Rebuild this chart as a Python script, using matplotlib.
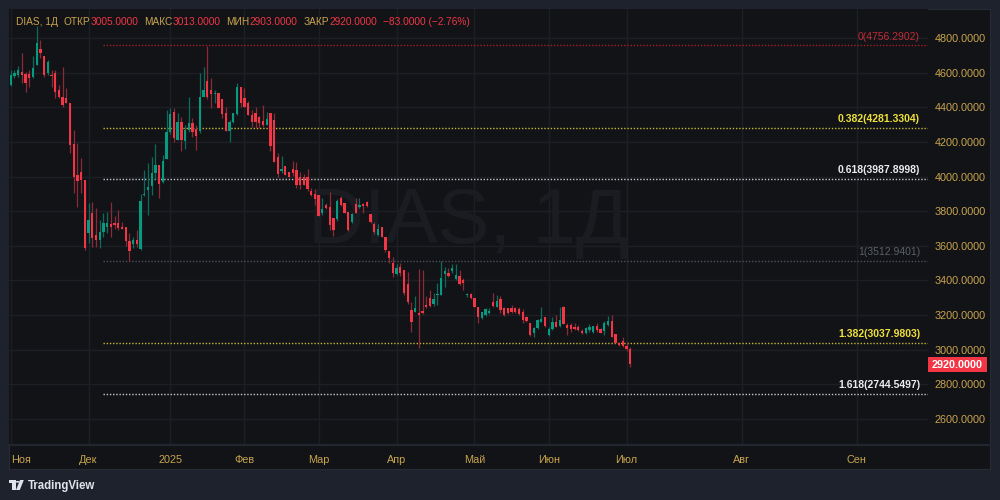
import matplotlib
matplotlib.use("Agg")
import matplotlib.pyplot as plt
from matplotlib.patches import Rectangle, Polygon, Circle
import numpy as np

# ---------------- data (daily OHLC) ----------------
opens = [4529, 4581, 4586, 4606, 4590, 4592, 4573, 4644, 4735, 4696,
         4596, 4586, 4596, 4500, 4461, 4455, 4423, 4188, 4009, 4028,
         3980, 3672, 3788, 3662, 3634, 3682, 3711, 3726,
         3730, 3730, 3711, 3707, 3628, 3610, 3633, 3580, 3896, 3922,
         3945, 4018, 4067, 3970, 4101, 4259, 4375, 4211, 4317, 4207,
         4269, 4307, 4273, 4265, 4457, 4554, 4500, 4478, 4484,
         4446, 4365, 4265, 4317, 4361, 4519, 4452, 4423, 4355, 4369,
         4346, 4323, 4298, 4365, 4327, 4111, 4034, 4061, 4028, 4042,
         4038, 3995, 3995, 3995, 3918, 3899, 3893, 3791,
         3836, 3826, 3759, 3753, 3874, 3849, 3797, 3739, 3841, 3826,
         3841, 3855, 3784, 3726, 3662, 3707, 3649, 3572, 3499, 3437,
         3476, 3460, 3380, 3229, 3220, 3214, 3226, 3258,
         3297, 3264, 3314, 3316, 3437, 3445, 3457, 3407, 3426, 3403,
         3316, 3320, 3297, 3249, 3181, 3201, 3214, 3277, 3249, 3291,
         3239, 3239, 3239, 3239, 3233, 3220, 3191,
         3156, 3099, 3124, 3162, 3187, 3085, 3118, 3162, 3137, 3249,
         3143, 3143, 3133, 3129, 3110, 3095, 3114, 3104, 3137, 3118,
         3110, 3143, 3168, 3091, 3041, 3050, 3022, 3005]
highs = [4615, 4615, 4638, 4715, 4606, 4615, 4696, 4869, 4788, 4696,
         4673, 4615, 4615, 4529, 4634, 4509, 4423, 4269, 4192, 4105,
         3980, 3845, 3855, 3816, 3749, 3791, 3797, 3855,
         3772, 3807, 3739, 3707, 3672, 3653, 3691, 3899, 4038, 4080,
         4111, 4188, 4067, 4124, 4384, 4394, 4394, 4369, 4346, 4298,
         4457, 4336, 4298, 4600, 4631, 4756, 4567, 4500, 4484,
         4446, 4400, 4327, 4369, 4542, 4519, 4509, 4438, 4384, 4400,
         4350, 4413, 4375, 4365, 4365, 4138, 4119, 4061, 4028, 4092,
         4086, 4028, 4015, 4042, 3932, 3926, 3893, 3874,
         3845, 3913, 3759, 3868, 3888, 3849, 3797, 3788, 3874, 3874,
         3845, 3861, 3784, 3739, 3726, 3711, 3653, 3572, 3534, 3495,
         3503, 3460, 3451, 3277, 3310, 3464, 3460, 3310,
         3345, 3326, 3383, 3514, 3476, 3470, 3495, 3495, 3460, 3412,
         3326, 3330, 3297, 3249, 3220, 3239, 3239, 3330, 3316, 3310,
         3249, 3239, 3258, 3245, 3245, 3233, 3195,
         3156, 3129, 3176, 3249, 3187, 3129, 3191, 3201, 3245, 3253,
         3152, 3156, 3152, 3143, 3118, 3129, 3149, 3137, 3152, 3124,
         3168, 3195, 3201, 3091, 3047, 3076, 3047, 3013]
lows = [4525, 4567, 4577, 4538, 4490, 4519, 4567, 4644, 4683, 4577,
        4586, 4519, 4452, 4452, 4400, 4423, 4134, 3903, 3826, 3903,
        3576, 3614, 3595, 3595, 3585, 3653, 3672, 3653,
        3695, 3691, 3695, 3599, 3513, 3585, 3591, 3576, 3888, 3778,
        3893, 3984, 3874, 3965, 4101, 4246, 4201, 4211, 4149, 4157,
        4259, 4230, 4153, 4250, 4457, 4446, 4394, 4427, 4394,
        4336, 4265, 4201, 4311, 4355, 4400, 4400, 4355, 4288, 4278,
        4278, 4284, 4298, 4149, 4086, 4000, 4022, 4009, 3995, 4003,
        3932, 3926, 3951, 3918, 3888, 3836, 3772, 3778,
        3811, 3691, 3657, 3745, 3830, 3788, 3688, 3734, 3788, 3816,
        3791, 3826, 3734, 3668, 3657, 3649, 3566, 3499, 3418, 3432,
        3426, 3316, 3264, 3104, 3220, 3008, 3206, 3239,
        3249, 3252, 3258, 3316, 3364, 3418, 3445, 3403, 3374, 3345,
        3303, 3291, 3245, 3152, 3175, 3195, 3206, 3245, 3245, 3214,
        3195, 3206, 3214, 3214, 3201, 3152, 3162,
        3079, 3072, 3118, 3162, 3133, 3079, 3114, 3133, 3133, 3149,
        3085, 3104, 3114, 3110, 3091, 3091, 3104, 3099, 3104, 3095,
        3085, 3137, 3072, 3037, 3022, 3018, 2990, 2903]
closes = [4586, 4600, 4615, 4586, 4542, 4571, 4625, 4773, 4711, 4586,
          4663, 4581, 4490, 4461, 4413, 4427, 4182, 3999, 3976, 3980,
          3585, 3749, 3643, 3634, 3682, 3730, 3734, 3707,
          3718, 3701, 3699, 3630, 3572, 3633, 3610, 3859, 3899, 3941,
          4022, 4067, 3957, 4092, 4259, 4361, 4221, 4317, 4211, 4269,
          4307, 4259, 4234, 4457, 4500, 4461, 4477, 4484, 4394,
          4361, 4265, 4317, 4365, 4519, 4423, 4400, 4355, 4317, 4317,
          4307, 4298, 4332, 4176, 4086, 4015, 4042, 4009, 3999, 4019,
          3951, 3951, 3951, 3926, 3891, 3868, 3772, 3811,
          3816, 3720, 3691, 3861, 3836, 3788, 3691, 3784, 3791, 3836,
          3830, 3830, 3739, 3682, 3695, 3649, 3576, 3528, 3445, 3470,
          3441, 3326, 3277, 3162, 3239, 3200, 3210, 3245,
          3252, 3291, 3316, 3412, 3457, 3426, 3470, 3432, 3380, 3387,
          3322, 3297, 3249, 3191, 3220, 3233, 3226, 3253, 3283, 3229,
          3201, 3214, 3220, 3220, 3206, 3172, 3168,
          3085, 3124, 3172, 3176, 3137, 3118, 3162, 3133, 3172, 3149,
          3124, 3118, 3118, 3114, 3095, 3124, 3129, 3137, 3114, 3099,
          3156, 3168, 3072, 3041, 3027, 3022, 3003, 2920]

ticker = "DIAS, 1Д"
month_labels = ["Ноя", "Дек", "2025", "Фев", "Мар", "Апр", "Май", "Июн", "Июл", "Авг", "Сен"]
bars_per_month = [21, 22, 20, 20, 21, 21, 20, 21]   # trading bars Nov..Jun
future_days_per_month = [31, 31]                    # Jul, Aug (calendar days on future axis)
price_ticks = [2600, 2800, 3000, 3200, 3400, 3600, 3800, 4000, 4200, 4400, 4600, 4800]
fib_ratios = ["0", "0.382", "0.618", "1", "1.382", "1.618"]
fib_prices = [4756.2902, 4281.3304, 3987.8998, 3512.9401, 3037.9803, 2744.5497]

# ---------------- style ----------------
FRAME = "#1e222d"
BG = "#111317"
GRID = "#1c1f26"
GOLD = "#c9a44e"
RED = "#f23645"
GREEN = "#089981"
RED_WICK = "#8e2a33"
GREEN_WICK = "#0b6b5c"
FONT = ["Liberation Sans", "DejaVu Sans"]
fib_line_colors = ["#a3202b", "#c8b82e", "#c8c8c8", "#4e5159", "#c8b82e", "#c8c8c8"]
fib_text_colors = ["#c22b36", "#f0e03c", "#ececec", "#5d6068", "#f0e03c", "#ececec"]
fib_weights = ["normal", "bold", "bold", "normal", "bold", "bold"]

W, H = 1000, 500
def fx(x): return x / W
def fy(y): return 1 - y / H

fig = plt.figure(figsize=(10, 5), dpi=100, facecolor=FRAME)
fig.patches.append(Rectangle((fx(9), fy(469)), fx(990) - fx(9), fy(9) - fy(469),
                             transform=fig.transFigure, facecolor=BG, edgecolor="#272b35",
                             linewidth=0.8, zorder=-5))

ax = fig.add_axes([fx(9), fy(445), fx(928) - fx(9), fy(9) - fy(445)])
ax.set_facecolor(BG)

o = np.array(opens, float); h = np.array(highs, float)
l = np.array(lows, float); c = np.array(closes, float)
x = np.arange(len(o))
up = c >= o

# month tick positions
starts = np.concatenate([[0], np.cumsum(bars_per_month)])
fut = starts[-1] + np.cumsum(future_days_per_month)
month_pos = np.concatenate([starts, fut])

ax.set_xlim(-0.458, 247.25)
ax.set_ylim(2450, 4967)

# grid
for p in price_ticks:
    ax.axhline(p, color=GRID, lw=1, zorder=0)
for mp in month_pos:
    ax.axvline(mp, color=GRID, lw=1, zorder=0)

# watermark
ax.text(0.4995, 0.463, ticker, transform=ax.transAxes, ha="center", va="baseline",
        fontsize=56, color="#1a1c22", family=FONT, zorder=0.5)

# candles
ax.vlines(x, l, h, colors=np.where(up, GREEN_WICK, RED_WICK), lw=0.9, zorder=2)
body_h = np.maximum(np.abs(c - o), 5)
ax.bar(x, body_h, bottom=np.minimum(o, c), width=0.62,
       color=np.where(up, GREEN, RED), linewidth=0, zorder=3)

# fibonacci levels
fib_start = 25
for ratio, price, lc, tc, wt in zip(fib_ratios, fib_prices, fib_line_colors, fib_text_colors, fib_weights):
    ax.plot([fib_start, 247.25], [price, price], color=lc, lw=1.0,
            linestyle=(0, (1, 1.3)), zorder=1.5)
    ax.annotate(f"{ratio}({price:.4f})", xy=(245.1, price), xytext=(0, 6.3),
                textcoords="offset points", ha="right", va="center",
                color=tc, fontsize=7.5, fontweight=wt, family=FONT, zorder=4)

# axes styling
for s in ["top", "left", "right"]:
    ax.spines[s].set_visible(False)
ax.spines["bottom"].set_color("#23262e")
ax.spines["bottom"].set_linewidth(1.6)

ax.yaxis.tick_right()
ax.set_yticks(price_ticks)
ax.set_yticklabels([f"{p:.4f}" for p in price_ticks])
ax.tick_params(axis="y", length=0, pad=5, labelcolor=GOLD, labelsize=7.8)
ax.set_xticks(month_pos)
ax.set_xticklabels(month_labels)
ax.tick_params(axis="x", length=0, pad=7, labelcolor=GOLD, labelsize=7.8)
for lbl in ax.get_yticklabels() + ax.get_xticklabels():
    lbl.set_family(FONT)
ax.get_xticklabels()[0].set_horizontalalignment("left")

# separator line under the price scale
fig.add_artist(plt.Line2D([fx(928), fx(990)], [fy(445), fy(445)], transform=fig.transFigure,
                          color="#23262e", lw=1.6))

# last price box
last = closes[-1]
fig.patches.append(Rectangle((fx(928), fy(372)), fx(987) - fx(928), fy(357) - fy(372),
                             transform=fig.transFigure, facecolor=RED, edgecolor="none", zorder=5))
fig.text(fx(957.5), fy(364.5), f"{last:.4f}", ha="center", va="center", color="white",
         fontsize=7.8, fontweight="bold", family=FONT, zorder=6)

# header (laid out piece by piece)
chg = closes[-1] - closes[-2]
pct = chg / closes[-2] * 100
pieces = [(ticker, GOLD, 6), ("ОТКР", GOLD, 0), (f"{opens[-1]:.4f}", RED, 6),
          ("МАКС", GOLD, 0), (f"{highs[-1]:.4f}", RED, 6),
          ("МИН", GOLD, 0), (f"{lows[-1]:.4f}", RED, 6),
          ("ЗАКР", GOLD, 0), (f"{closes[-1]:.4f}", RED, 6),
          (f"{chg:.4f} ({pct:.2f}%)".replace("-", "\u2212"), RED, 0)]
renderer = fig.canvas.get_renderer()
cur = 15.7
for txt, col, gap in pieces:
    t = fig.text(fx(cur), fy(25), txt, ha="left", va="baseline", color=col,
                 fontsize=7.3, family=FONT, zorder=6)
    wpx = t.get_window_extent(renderer=renderer).width
    cur += wpx + gap

# TradingView logo
LOGO = "#e0e3eb"
fig.patches.append(Rectangle((fx(9), fy(483)), fx(15.5) - fx(9), fy(480) - fy(483),
                             transform=fig.transFigure, facecolor=LOGO, edgecolor="none"))
fig.patches.append(Rectangle((fx(12), fy(490)), fx(15.5) - fx(12), fy(480) - fy(490),
                             transform=fig.transFigure, facecolor=LOGO, edgecolor="none"))
fig.patches.append(Circle((fx(17.6), fy(481.8)), 1.8 / W, transform=fig.transFigure,
                          facecolor=LOGO, edgecolor="none"))
fig.patches.append(Polygon([(fx(20), fy(480)), (fx(23.8), fy(480)), (fx(19.8), fy(490)), (fx(16), fy(490))],
                           closed=True, transform=fig.transFigure, facecolor=LOGO, edgecolor="none"))
fig.text(fx(27.5), fy(489), "TradingView", ha="left", va="baseline", color=LOGO,
         fontsize=8.3, fontweight="bold", family=FONT)

fig.savefig("out.png", dpi=100, facecolor=FRAME)
